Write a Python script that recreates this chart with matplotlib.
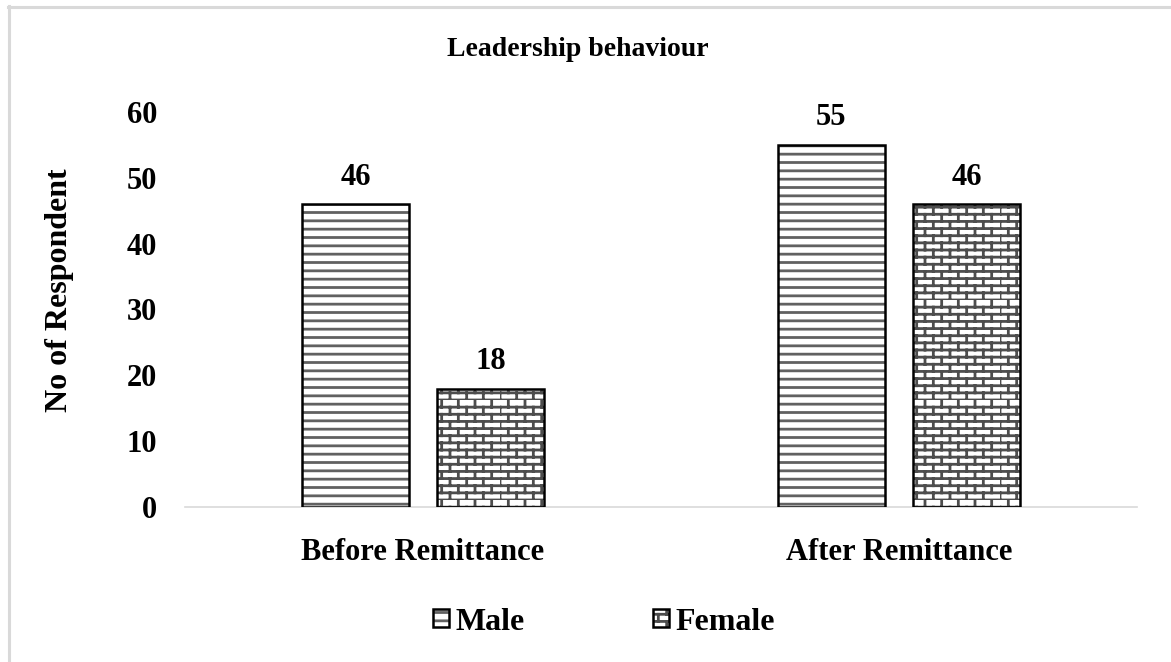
import warnings
warnings.filterwarnings("ignore")
import numpy as np
import matplotlib
matplotlib.use("Agg")
import matplotlib.pyplot as plt
from matplotlib import hatch as mhatch
from matplotlib.path import Path
from matplotlib.lines import Line2D

categories = ["Before Remittance", "After Remittance"]
male = [46, 55]
female = [18, 46]
series_names = ["Male", "Female"]
title = "Leadership behaviour"
ylabel = "No of Respondent"
yticks = [0, 10, 20, 30, 40, 50, 60]


class BrickHatch(mhatch.HatchPatternBase):
    def __init__(self, hatch, density):
        self.rows = 14
        self.cols = 6
        self.num_vertices = 2 * (self.rows + self.rows * self.cols) if 'b' in hatch else 0

    def set_vertices_and_codes(self, vertices, codes):
        k = 0
        for r in range(self.rows):
            y = r / self.rows
            vertices[k] = (0.0, y); vertices[k + 1] = (1.0, y)
            codes[k] = Path.MOVETO; codes[k + 1] = Path.LINETO
            k += 2
        for r in range(self.rows):
            y0 = r / self.rows
            y1 = (r + 1) / self.rows
            off = 0.0 if r % 2 == 0 else 0.5 / self.cols
            for c in range(self.cols):
                x = c / self.cols + off
                vertices[k] = (x, y0); vertices[k + 1] = (x, y1)
                codes[k] = Path.MOVETO; codes[k + 1] = Path.LINETO
                k += 2


mhatch._hatch_types.append(BrickHatch)

plt.rcParams['font.family'] = ['Liberation Serif', 'DejaVu Serif']
plt.rcParams['font.weight'] = 'bold'
plt.rcParams['hatch.linewidth'] = 2.0

fig = plt.figure(figsize=(11.71, 6.62), dpi=100)
ax = fig.add_axes([185 / 1171, (662 - 507) / 662, (1137 - 185) / 1171, (507 - 112) / 662])

x = np.arange(len(categories))
w = 0.225
off = 0.142
b1 = ax.bar(x - off, male, w, facecolor='white', edgecolor='black', linewidth=1.8,
            hatch='--', label=series_names[0], zorder=3)
b2 = ax.bar(x + off, female, w, facecolor='white', edgecolor='black', linewidth=1.8,
            hatch='b', label=series_names[1], zorder=3)
for bar in b1:
    bar._hatch_color = (0.38, 0.38, 0.38, 1.0)
for bar in b2:
    bar._hatch_color = (0.3, 0.3, 0.3, 1.0)

for bars, vals in ((b1, male), (b2, female)):
    for bar, v in zip(bars, vals):
        ax.annotate(str(v), (bar.get_x() + bar.get_width() / 2, v), xytext=(0, 9),
                    textcoords='offset points', ha='center', va='bottom',
                    fontsize=22, fontweight='bold')

ax.set_xlim(-0.5, 1.5)
ax.set_ylim(0, 60)
ax.set_yticks(yticks)
ax.set_xticks(x)
ax.set_xticklabels(categories)
ax.tick_params(axis='both', length=0, labelsize=22)
ax.tick_params(axis='x', pad=22)
ax.tick_params(axis='y', pad=20)
for s in ['top', 'right', 'left']:
    ax.spines[s].set_visible(False)
ax.spines['bottom'].set_color('#d9d9d9')
ax.spines['bottom'].set_linewidth(1.2)

ax.set_ylabel(ylabel, fontsize=23, fontweight='bold')
ax.yaxis.set_label_coords(-0.117, 0.549)

fig.text(578 / 1171, 1 - 50 / 662, title, ha='center', va='center', fontsize=20, fontweight='bold')

leg = fig.legend(handles=[b1, b2], labels=series_names, loc='center',
                 bbox_to_anchor=(604 / 1171, 1 - 622 / 662), ncol=2, frameon=False,
                 fontsize=23, handlelength=0.5, handleheight=0.5, handletextpad=0.2,
                 columnspacing=4.0)

# outer chart border (left and top visible)
fig.add_artist(Line2D([8.5 / 1171, 8.5 / 1171], [0, 1 - 6 / 662], transform=fig.transFigure,
                      color='#d9d9d9', linewidth=2.2))
fig.add_artist(Line2D([8 / 1171, 1], [1 - 7 / 662, 1 - 7 / 662], transform=fig.transFigure,
                      color='#d9d9d9', linewidth=2.2))

fig.savefig('out.png', dpi=100)
